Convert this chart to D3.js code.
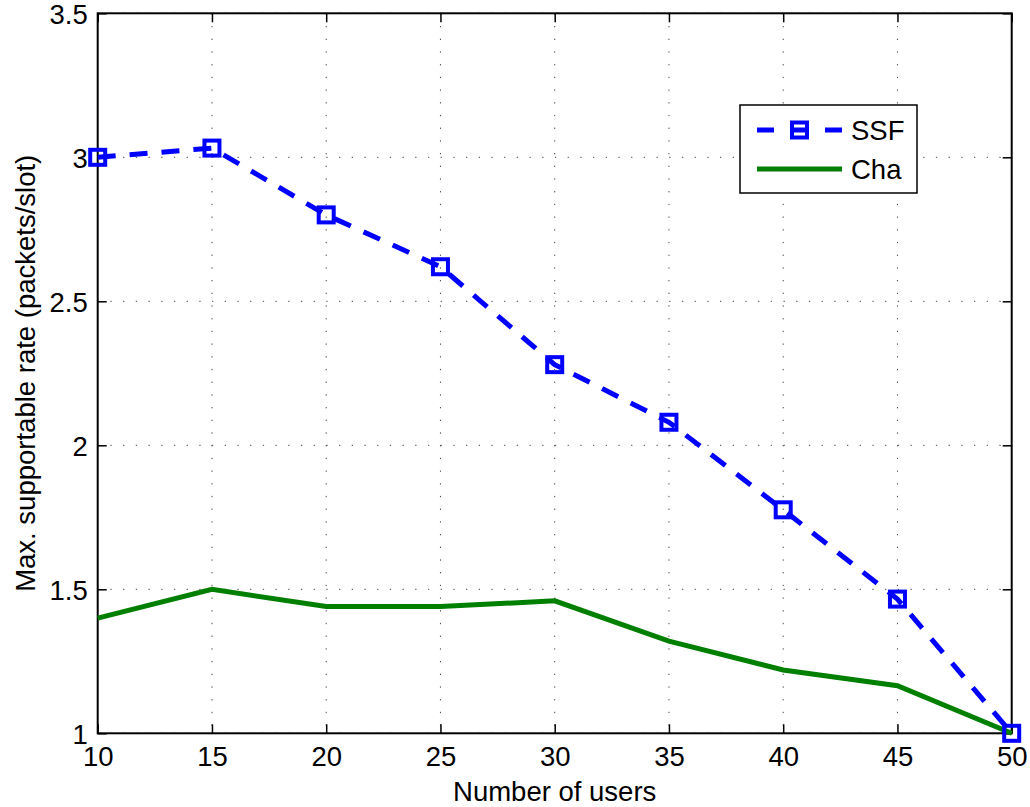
<!DOCTYPE html>
<html><head><meta charset="utf-8">
<script src="https://cdn.jsdelivr.net/npm/d3@7"></script>
<style>body{margin:0;background:#fff;} text{font-family:"Liberation Sans",Arial,sans-serif;}</style>
</head><body>
<svg id="c" width="1030" height="807"></svg>
<script>
const users = [10,15,20,25,30,35,40,45,50];
const ssf = [3.0,3.032,2.80,2.62,2.28,2.08,1.776,1.466,1.0];
const cha = [1.40,1.50,1.44,1.44,1.46,1.32,1.22,1.165,1.0];
const xTicks = [10,15,20,25,30,35,40,45,50];
const yTicks = [1,1.5,2,2.5,3,3.5];
const yTickLabels = ["1","1.5","2","2.5","3","3.5"];
const seriesNames = ["SSF","Cha"];

const svg = d3.select("#c");
const L=97.7,R=1011.7,T=13.3,B=733.3;
const x = d3.scaleLinear().domain([10,50]).range([L,R]);
const y = d3.scaleLinear().domain([1,3.5]).range([B,T]);
const fs = 27.5;

// grid
const g = svg.append("g");
xTicks.forEach(t=>{ g.append("line").attr("x1",x(t)).attr("x2",x(t)).attr("y1",T).attr("y2",B)
  .attr("stroke","#444").attr("stroke-width",1).attr("stroke-dasharray","1.3,11.4"); });
yTicks.forEach(t=>{ g.append("line").attr("x1",L).attr("x2",R).attr("y1",y(t)).attr("y2",y(t))
  .attr("stroke","#444").attr("stroke-width",1).attr("stroke-dasharray","1.3,11.4"); });

// axes with inward ticks
const tl = 9;
const axB = d3.axisBottom(x).tickValues(xTicks).tickSize(-tl).tickPadding(13).tickFormat(d3.format("d"));
const axT = d3.axisTop(x).tickValues(xTicks).tickSize(-tl).tickFormat("");
const axLf = d3.axisLeft(y).tickValues(yTicks).tickSize(-tl).tickPadding(10).tickFormat((d,i)=>yTickLabels[i]);
const axRt = d3.axisRight(y).tickValues(yTicks).tickSize(-tl).tickFormat("");
function style(sel){ sel.attr("font-size",fs); sel.select(".domain").remove(); sel.selectAll("line").attr("stroke","#000").attr("stroke-width",1.5);
  sel.selectAll("text").attr("font-size",fs).attr("fill","#000").attr("font-family","Liberation Sans, Arial, sans-serif"); }
svg.append("g").attr("transform",`translate(0,${B})`).call(axB).call(style);
svg.append("g").attr("transform",`translate(0,${T})`).call(axT).call(style);
svg.append("g").attr("transform",`translate(${L},0)`).call(axLf).call(style)
  .selectAll("text").attr("dy","0.38em");
svg.append("g").attr("transform",`translate(${R},0)`).call(axRt).call(style);
svg.append("rect").attr("x",L).attr("y",T).attr("width",R-L).attr("height",B-T)
  .attr("fill","none").attr("stroke","#000").attr("stroke-width",2);

// lines
const line = d3.line().x(d=>x(d[0])).y(d=>y(d[1]));
svg.append("path").datum(users.map((u,i)=>[u,cha[i]])).attr("d",line)
  .attr("fill","none").attr("stroke","#007f00").attr("stroke-width",5);
svg.append("path").datum(users.map((u,i)=>[u,ssf[i]])).attr("d",line)
  .attr("fill","none").attr("stroke","#0000ff").attr("stroke-width",5).attr("stroke-dasharray","18,14");
const ms=15;
svg.selectAll(".mk").data(users.map((u,i)=>[u,ssf[i]])).enter().append("rect")
  .attr("x",d=>x(d[0])-ms/2).attr("y",d=>y(d[1])-ms/2).attr("width",ms).attr("height",ms)
  .attr("fill","none").attr("stroke","#0000ff").attr("stroke-width",4);

// axis labels
svg.append("text").attr("x",(L+R)/2).attr("y",801).attr("text-anchor","middle").attr("font-size",fs).text("Number of users");
svg.append("text").attr("transform",`translate(35,${(T+B)/2}) rotate(-90)`).attr("text-anchor","middle")
  .attr("font-size",fs).text("Max. supportable rate (packets/slot)");

// legend
const lg = svg.append("g");
lg.append("rect").attr("x",740).attr("y",105).attr("width",177).attr("height",88).attr("fill","#fff").attr("stroke","#000").attr("stroke-width",1.5);
lg.append("line").attr("x1",757).attr("x2",842).attr("y1",130).attr("y2",130).attr("stroke","#0000ff").attr("stroke-width",5).attr("stroke-dasharray","17,17");
lg.append("rect").attr("x",799.5-ms/2).attr("y",130-ms/2).attr("width",ms).attr("height",ms).attr("fill","none").attr("stroke","#0000ff").attr("stroke-width",4);
lg.append("text").attr("x",851).attr("y",140).attr("font-size",fs).text(seriesNames[0]);
lg.append("line").attr("x1",757).attr("x2",842).attr("y1",169).attr("y2",169).attr("stroke","#007f00").attr("stroke-width",5);
lg.append("text").attr("x",851).attr("y",179).attr("font-size",fs).text(seriesNames[1]);
</script>
</body></html>
